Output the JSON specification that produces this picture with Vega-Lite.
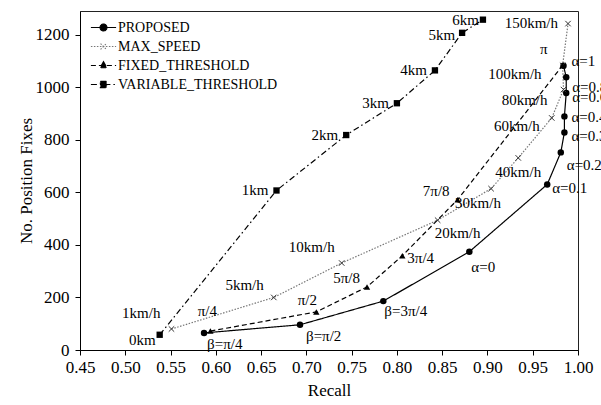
{
  "$schema": "https://vega.github.io/schema/vega-lite/v6.json",
  "width": 498,
  "height": 339,
  "autosize": {"type": "none"},
  "padding": {"left": 80, "top": 11, "right": 23, "bottom": 55},
  "background": "white",
  "config": {
    "view": {"stroke": "#222", "strokeWidth": 1},
    "font": "Liberation Serif",
    "mark": {"font": "Liberation Serif"},
    "axis": {
      "grid": false,
      "domainColor": "black",
      "tickColor": "black",
      "tickSize": 5,
      "labelColor": "black",
      "labelFont": "Liberation Serif",
      "labelFontSize": 17,
      "titleFont": "Liberation Serif",
      "titleFontSize": 17,
      "titleFontWeight": "normal",
      "titleColor": "black",
      "labelFlush": false
    },
    "legend": {
      "labelFont": "Liberation Serif", "labelFontSize": 14, "labelColor": "black",
      "symbolSize": 441, "rowPadding": 0, "labelOffset": 3, "padding": 0, "symbolStrokeWidth": 1.1
    },
    "text": {"font": "Liberation Serif", "fontSize": 15, "baseline": "middle", "color": "black"}
  },
  "resolve": {"legend": {"stroke": "independent", "strokeDash": "independent", "fill": "independent", "shape": "independent"}},
  "data": {
    "values": [
      {"series": "PROPOSED", "label": "β=π/4", "r": 0.587, "n": 65},
      {"series": "PROPOSED", "label": "β=π/2", "r": 0.693, "n": 96},
      {"series": "PROPOSED", "label": "β=3π/4", "r": 0.785, "n": 186},
      {"series": "PROPOSED", "label": "α=0", "r": 0.880, "n": 374},
      {"series": "PROPOSED", "label": "α=0.1", "r": 0.966, "n": 630},
      {"series": "PROPOSED", "label": "α=0.2", "r": 0.981, "n": 752},
      {"series": "PROPOSED", "label": "α=0.3", "r": 0.985, "n": 828},
      {"series": "PROPOSED", "label": "α=0.4", "r": 0.985, "n": 889},
      {"series": "PROPOSED", "label": "α=0.6", "r": 0.987, "n": 978},
      {"series": "PROPOSED", "label": "α=0.8", "r": 0.987, "n": 1038},
      {"series": "PROPOSED", "label": "α=1", "r": 0.984, "n": 1082},
      {"series": "MAX_SPEED", "label": "1km/h", "r": 0.551, "n": 80},
      {"series": "MAX_SPEED", "label": "5km/h", "r": 0.664, "n": 200},
      {"series": "MAX_SPEED", "label": "10km/h", "r": 0.739, "n": 331},
      {"series": "MAX_SPEED", "label": "20km/h", "r": 0.845, "n": 494},
      {"series": "MAX_SPEED", "label": "30km/h", "r": 0.904, "n": 614},
      {"series": "MAX_SPEED", "label": "40km/h", "r": 0.934, "n": 731},
      {"series": "MAX_SPEED", "label": "60km/h", "r": 0.971, "n": 883},
      {"series": "MAX_SPEED", "label": "80km/h", "r": 0.984, "n": 991},
      {"series": "MAX_SPEED", "label": "100km/h", "r": 0.983, "n": 1083},
      {"series": "MAX_SPEED", "label": "150km/h", "r": 0.989, "n": 1242},
      {"series": "FIXED_THRESHOLD", "label": "π/4", "r": 0.594, "n": 72},
      {"series": "FIXED_THRESHOLD", "label": "π/2", "r": 0.711, "n": 145},
      {"series": "FIXED_THRESHOLD", "label": "5π/8", "r": 0.767, "n": 240},
      {"series": "FIXED_THRESHOLD", "label": "3π/4", "r": 0.806, "n": 359},
      {"series": "FIXED_THRESHOLD", "label": "7π/8", "r": 0.867, "n": 572},
      {"series": "FIXED_THRESHOLD", "label": "π", "r": 0.983, "n": 1083},
      {"series": "VARIABLE_THRESHOLD", "label": "0km", "r": 0.538, "n": 58},
      {"series": "VARIABLE_THRESHOLD", "label": "1km", "r": 0.667, "n": 607},
      {"series": "VARIABLE_THRESHOLD", "label": "2km", "r": 0.744, "n": 818},
      {"series": "VARIABLE_THRESHOLD", "label": "3km", "r": 0.800, "n": 939},
      {"series": "VARIABLE_THRESHOLD", "label": "4km", "r": 0.842, "n": 1064},
      {"series": "VARIABLE_THRESHOLD", "label": "5km", "r": 0.872, "n": 1207},
      {"series": "VARIABLE_THRESHOLD", "label": "6km", "r": 0.895, "n": 1257}
    ]
  },
  "encoding": {
    "x": {
      "field": "r", "type": "quantitative",
      "scale": {"domain": [0.45, 1.0], "nice": false, "zero": false},
      "axis": {"title": "Recall", "values": [0.45, 0.5, 0.55, 0.6, 0.65, 0.7, 0.75, 0.8, 0.85, 0.9, 0.95, 1.0], "format": ".2f", "labelPadding": 4, "titlePadding": 7}
    },
    "y": {
      "field": "n", "type": "quantitative",
      "scale": {"domain": [0, 1290], "nice": false},
      "axis": {"title": "No. Position Fixes", "values": [0, 200, 400, 600, 800, 1000, 1200], "format": "d", "labelPadding": 6, "titlePadding": 0}
    }
  },
  "layer": [
    {
      "mark": {"type": "line", "strokeWidth": 1.2},
      "encoding": {
        "order": {"field": "n", "type": "quantitative"},
        "stroke": {"field": "series", "type": "nominal", "legend": null,
          "scale": {"domain": ["PROPOSED", "MAX_SPEED", "FIXED_THRESHOLD", "VARIABLE_THRESHOLD"], "range": ["black", "#777777", "black", "black"]}},
        "strokeDash": {"field": "series", "type": "nominal", "legend": null,
          "scale": {"domain": ["PROPOSED", "MAX_SPEED", "FIXED_THRESHOLD", "VARIABLE_THRESHOLD"], "range": [[1, 0], [1.5, 1.5], [5, 3], [6, 3, 1.5, 3]]}}
      }
    },
    {
      "transform": [{"filter": "datum.series == 'PROPOSED'"}],
      "mark": {"type": "point", "shape": "circle", "filled": true, "color": "black", "size": 42, "opacity": 1}
    },
    {
      "transform": [{"filter": "datum.series == 'MAX_SPEED'"}],
      "mark": {"type": "point", "shape": "M-1,-1L1,1M-1,1L1,-1", "filled": false, "stroke": "#333333", "strokeWidth": 1, "size": 30, "opacity": 1}
    },
    {
      "transform": [{"filter": "datum.series == 'FIXED_THRESHOLD'"}],
      "mark": {"type": "point", "shape": "triangle-up", "filled": true, "color": "black", "size": 40, "opacity": 1}
    },
    {
      "transform": [{"filter": "datum.series == 'VARIABLE_THRESHOLD'"}],
      "mark": {"type": "point", "shape": "square", "filled": true, "color": "black", "size": 40, "opacity": 1}
    },
    {
      "transform": [{"filter": "false"}],
      "mark": {"type": "point", "opacity": 1, "strokeWidth": 1.1},
      "encoding": {
        "shape": {"field": "series", "type": "nominal",
          "scale": {"domain": ["PROPOSED", "MAX_SPEED", "FIXED_THRESHOLD", "VARIABLE_THRESHOLD"],
            "range": [
              "M-1.2,0H1.2M-0.33,0A0.33,0.33,0,1,1,0.33,0A0.33,0.33,0,1,1,-0.33,0Z",
              "M-1.2,0H1.2M-0.28,-0.28L0.28,0.28M-0.28,0.28L0.28,-0.28",
              "M-1.2,0H1.2M0,-0.36L0.33,0.22L-0.33,0.22Z",
              "M-1.2,0H1.2M-0.3,-0.3H0.3V0.3H-0.3Z"]},
          "legend": {"orient": "none", "legendX": 12, "legendY": 5, "title": null}},
        "stroke": {"field": "series", "type": "nominal", "legend": {"orient": "none", "legendX": 12, "legendY": 5, "title": null}},
        "fill": {"field": "series", "type": "nominal",
          "scale": {"domain": ["PROPOSED", "MAX_SPEED", "FIXED_THRESHOLD", "VARIABLE_THRESHOLD"], "range": ["black", "black", "black", "black"]},
          "legend": {"orient": "none", "legendX": 12, "legendY": 5, "title": null}},
        "strokeDash": {"field": "series", "type": "nominal", "legend": {"orient": "none", "legendX": 12, "legendY": 5, "title": null}}
      }
    },
    {"transform": [{"filter": "datum.label == 'β=π/4'"}], "mark": {"type": "text", "align": "left", "dx": 3, "dy": 11}, "encoding": {"text": {"field": "label"}}},
    {"transform": [{"filter": "datum.label == 'β=π/2'"}], "mark": {"type": "text", "align": "left", "dx": 6, "dy": 11}, "encoding": {"text": {"field": "label"}}},
    {"transform": [{"filter": "datum.label == 'β=3π/4'"}], "mark": {"type": "text", "align": "left", "dx": 1, "dy": 10}, "encoding": {"text": {"field": "label"}}},
    {"transform": [{"filter": "datum.label == 'α=0'"}], "mark": {"type": "text", "align": "left", "dx": 2, "dy": 15}, "encoding": {"text": {"field": "label"}}},
    {"transform": [{"filter": "datum.label == 'α=0.1'"}], "mark": {"type": "text", "align": "left", "dx": 5, "dy": 4}, "encoding": {"text": {"field": "label"}}},
    {"transform": [{"filter": "datum.label == 'α=0.2'"}], "mark": {"type": "text", "align": "left", "dx": 6, "dy": 13}, "encoding": {"text": {"field": "label"}}},
    {"transform": [{"filter": "datum.label == 'α=0.3'"}], "mark": {"type": "text", "align": "left", "dx": 7, "dy": 4}, "encoding": {"text": {"field": "label"}}},
    {"transform": [{"filter": "datum.label == 'α=0.4'"}], "mark": {"type": "text", "align": "left", "dx": 7, "dy": 1}, "encoding": {"text": {"field": "label"}}},
    {"transform": [{"filter": "datum.label == 'α=0.6'"}], "mark": {"type": "text", "align": "left", "dx": 6, "dy": 4}, "encoding": {"text": {"field": "label"}}},
    {"transform": [{"filter": "datum.label == 'α=0.8'"}], "mark": {"type": "text", "align": "left", "dx": 6, "dy": 10}, "encoding": {"text": {"field": "label"}}},
    {"transform": [{"filter": "datum.label == 'α=1'"}], "mark": {"type": "text", "align": "left", "dx": 8, "dy": -5}, "encoding": {"text": {"field": "label"}}},
    {"transform": [{"filter": "datum.label == '1km/h'"}], "mark": {"type": "text", "align": "right", "dx": -11, "dy": -16}, "encoding": {"text": {"field": "label"}}},
    {"transform": [{"filter": "datum.label == '5km/h'"}], "mark": {"type": "text", "align": "right", "dx": -10, "dy": -12}, "encoding": {"text": {"field": "label"}}},
    {"transform": [{"filter": "datum.label == '10km/h'"}], "mark": {"type": "text", "align": "right", "dx": -7, "dy": -16}, "encoding": {"text": {"field": "label"}}},
    {"transform": [{"filter": "datum.label == '20km/h'"}], "mark": {"type": "text", "align": "left", "dx": -3, "dy": 13}, "encoding": {"text": {"field": "label"}}},
    {"transform": [{"filter": "datum.label == '30km/h'"}], "mark": {"type": "text", "align": "left", "dx": -36, "dy": 14}, "encoding": {"text": {"field": "label"}}},
    {"transform": [{"filter": "datum.label == '40km/h'"}], "mark": {"type": "text", "align": "center", "dx": 0, "dy": 14}, "encoding": {"text": {"field": "label"}}},
    {"transform": [{"filter": "datum.label == '60km/h'"}], "mark": {"type": "text", "align": "right", "dx": -12, "dy": 8}, "encoding": {"text": {"field": "label"}}},
    {"transform": [{"filter": "datum.label == '80km/h'"}], "mark": {"type": "text", "align": "right", "dx": -16, "dy": 10}, "encoding": {"text": {"field": "label"}}},
    {"transform": [{"filter": "datum.label == '100km/h'"}], "mark": {"type": "text", "align": "right", "dx": -21, "dy": 9}, "encoding": {"text": {"field": "label"}}},
    {"transform": [{"filter": "datum.label == '150km/h'"}], "mark": {"type": "text", "align": "right", "dx": -10, "dy": -1}, "encoding": {"text": {"field": "label"}}},
    {"transform": [{"filter": "datum.label == 'π/4'"}], "mark": {"type": "text", "align": "center", "dx": -3, "dy": -20}, "encoding": {"text": {"field": "label"}}},
    {"transform": [{"filter": "datum.label == 'π/2'"}], "mark": {"type": "text", "align": "center", "dx": -9, "dy": -12}, "encoding": {"text": {"field": "label"}}},
    {"transform": [{"filter": "datum.label == '5π/8'"}], "mark": {"type": "text", "align": "right", "dx": -7, "dy": -9}, "encoding": {"text": {"field": "label"}}},
    {"transform": [{"filter": "datum.label == '3π/4'"}], "mark": {"type": "text", "align": "left", "dx": 5, "dy": 2}, "encoding": {"text": {"field": "label"}}},
    {"transform": [{"filter": "datum.label == '7π/8'"}], "mark": {"type": "text", "align": "right", "dx": -8, "dy": -9}, "encoding": {"text": {"field": "label"}}},
    {"transform": [{"filter": "datum.label == 'π'"}], "mark": {"type": "text", "align": "right", "dx": -15, "dy": -16}, "encoding": {"text": {"field": "label"}}},
    {"transform": [{"filter": "datum.label == '0km'"}], "mark": {"type": "text", "align": "right", "dx": -4, "dy": 5}, "encoding": {"text": {"field": "label"}}},
    {"transform": [{"filter": "indexof(['1km','2km','3km','4km'], datum.label) >= 0"}], "mark": {"type": "text", "align": "right", "dx": -8, "dy": 0}, "encoding": {"text": {"field": "label"}}},
    {"transform": [{"filter": "datum.label == '5km'"}], "mark": {"type": "text", "align": "right", "dx": -7, "dy": 2}, "encoding": {"text": {"field": "label"}}},
    {"transform": [{"filter": "datum.label == '6km'"}], "mark": {"type": "text", "align": "right", "dx": -4, "dy": 0}, "encoding": {"text": {"field": "label"}}}
  ]
}
